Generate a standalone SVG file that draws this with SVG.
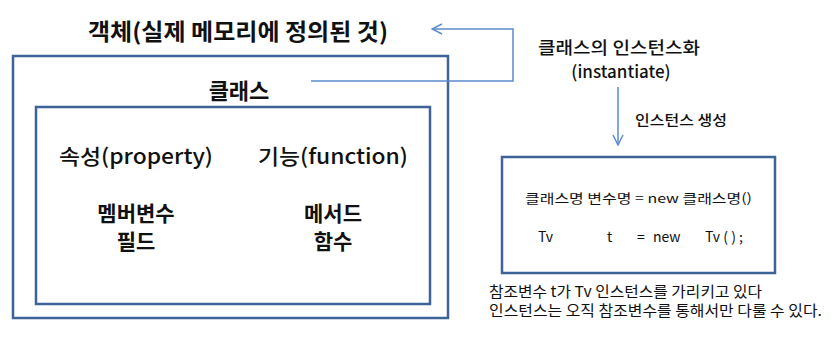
<svg xmlns="http://www.w3.org/2000/svg" width="836" height="348" viewBox="0 0 836 348">
<defs>
<style>
.t{font-family:"Noto Sans CJK KR","Noto Sans",sans-serif;fill:#111}
.b{font-weight:700}
.m{font-weight:500}
.box{fill:none;stroke:#3d6399;stroke-width:2.5}
.con{fill:none;stroke:#5b8bcf;stroke-width:1.5}
</style>
<marker id="ah" viewBox="0 0 12 12" refX="11" refY="6" markerWidth="12" markerHeight="12" markerUnits="userSpaceOnUse" orient="auto">
<path d="M1,1 L11,6 L1,11" fill="none" stroke="#5b8bcf" stroke-width="1.5"/>
</marker>
</defs>
<rect width="836" height="348" fill="#fff"/>
<g id="object-title">
<text class="t b" x="88" y="40" font-size="23" textLength="300" lengthAdjust="spacingAndGlyphs">객체(실제 메모리에 정의된 것)</text>
</g>
<g id="class-outer">
<rect class="box" x="13" y="56" width="435" height="262"/>
<text class="t b" x="239" y="99" font-size="22" text-anchor="middle">클래스</text>
</g>
<g id="class-inner">
<rect class="box" x="36" y="107" width="394" height="197"/>
<text class="t m" x="59" y="164" font-size="21" textLength="154" lengthAdjust="spacingAndGlyphs">속성(property)</text>
<text class="t m" x="258" y="164" font-size="21" textLength="150" lengthAdjust="spacingAndGlyphs">기능(function)</text>
<text class="t b" x="136" y="221" font-size="21" text-anchor="middle">멤버변수</text>
<text class="t b" x="136" y="249" font-size="21" text-anchor="middle">필드</text>
<text class="t b" x="333" y="221" font-size="21" text-anchor="middle">메서드</text>
<text class="t b" x="333" y="249" font-size="21" text-anchor="middle">함수</text>
</g>
<g id="instantiate-label">
<text class="t m" x="619" y="54" font-size="17" text-anchor="middle" textLength="162" lengthAdjust="spacingAndGlyphs">클래스의 인스턴스화</text>
<text class="t m" x="621" y="78" font-size="17" text-anchor="middle">(instantiate)</text>
</g>
<g id="create-label">
<text class="t m" x="635" y="125" font-size="14" textLength="92" lengthAdjust="spacingAndGlyphs">인스턴스 생성</text>
</g>
<g id="code-box">
<rect class="box" x="502" y="157" width="273" height="116"/>
<text class="t" x="525" y="203" font-size="13" textLength="227" lengthAdjust="spacingAndGlyphs">클래스명 변수명 = new 클래스명()</text>
<text class="t" x="538" y="242" font-size="14">Tv</text>
<text class="t" x="607" y="242" font-size="14">t</text>
<text class="t" x="637" y="242" font-size="14">=</text>
<text class="t" x="653" y="242" font-size="14">new</text>
<text class="t" x="705" y="242" font-size="14">Tv ( ) ;</text>
</g>
<g id="note">
<text class="t" x="489" y="297" font-size="15" textLength="273" lengthAdjust="spacingAndGlyphs">참조변수 t가 Tv 인스턴스를 가리키고 있다</text>
<text class="t" x="489" y="316" font-size="15" textLength="333" lengthAdjust="spacingAndGlyphs">인스턴스는 오직 참조변수를 통해서만 다룰 수 있다.</text>
</g>
<g id="connectors">
<path class="con" d="M311,81 H513 V29 H432" marker-end="url(#ah)"/>
<path class="con" d="M618,87 V145" marker-end="url(#ah)"/>
</g>
</svg>
